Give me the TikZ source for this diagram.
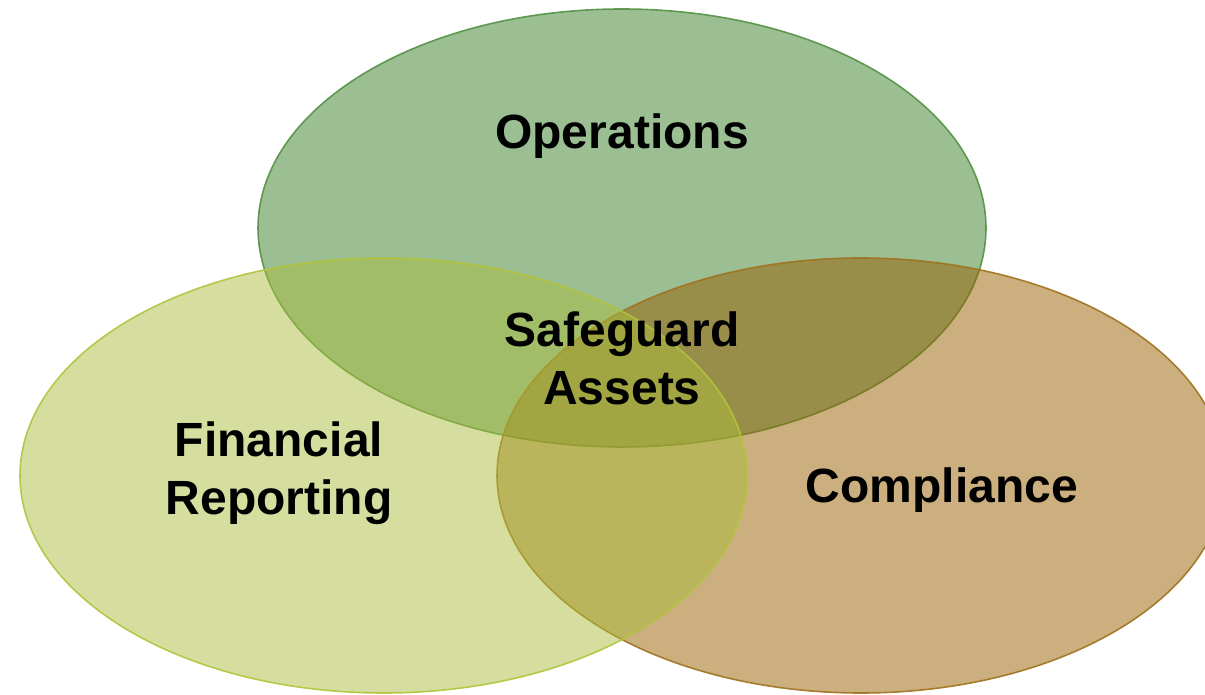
\documentclass[tikz,border=0pt]{standalone}
\usepackage{fontspec}
\setmainfont{Liberation Sans}
\definecolor{opsfill}{RGB}{55,127,39}
\definecolor{opsline}{RGB}{84,146,68}
\definecolor{finfill}{RGB}{171,189,61}
\definecolor{finline}{RGB}{178,196,60}
\definecolor{comfill}{RGB}{151,95,0}
\definecolor{comline}{RGB}{160,114,30}
\begin{document}
\begin{tikzpicture}[x=1pt,y=-1pt,
  venn/.style={fill opacity=0.5, draw opacity=0.9, line width=1.6pt},
  lbl/.style={font=\fontsize{48}{58}\selectfont\bfseries, align=center, text=black, inner sep=0pt}]
\useasboundingbox (0,0) rectangle (1205,695);
\clip (0,0) rectangle (1205,695);
% three overlapping circles of the internal-control model
\draw[venn, fill=opsfill, draw=opsline] (622,228) ellipse [x radius=364, y radius=219];
\draw[venn, fill=comfill, draw=comline] (861,475.5) ellipse [x radius=364, y radius=217.5];
\draw[venn, fill=finfill, draw=finline] (383.5,475.5) ellipse [x radius=363.5, y radius=217.5];
% labels
\node[lbl] (ops) at (622,136) {Operations};
\node[lbl] (safe) at (622,358) {Safeguard\\Assets};
\node[lbl] (fin) at (279,473) {Financial\\Reporting};
\node[lbl] (comp) at (942,490) {Compliance};
\end{tikzpicture}
\end{document}
